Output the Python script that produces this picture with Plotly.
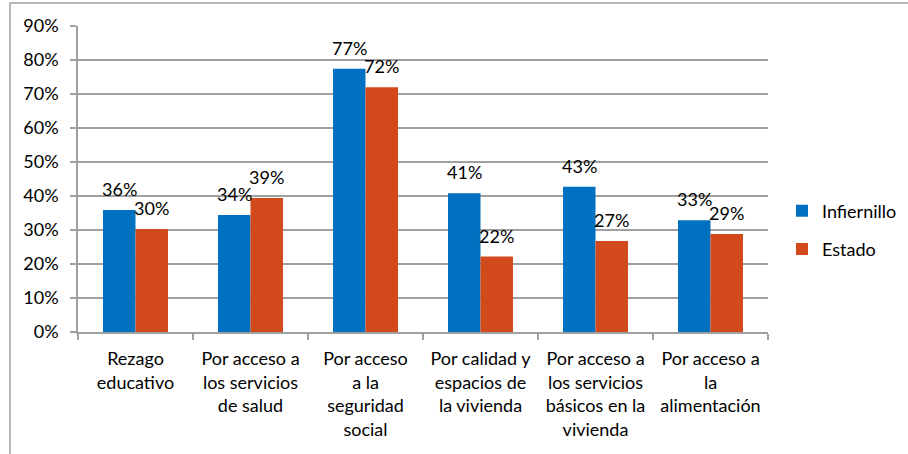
import plotly.graph_objects as go

categories = [
    "Rezago<br>educativo",
    "Por acceso a<br>los servicios<br>de salud",
    "Por acceso<br>a la<br>seguridad<br>social",
    "Por calidad y<br>espacios de<br>la vivienda",
    "Por acceso a<br>los servicios<br>básicos en la<br>vivienda",
    "Por acceso a<br>la<br>alimentación",
]
infiernillo = [0.359, 0.344, 0.774, 0.408, 0.427, 0.329]
estado = [0.303, 0.394, 0.720, 0.222, 0.268, 0.288]
y_ticks = [0, 0.1, 0.2, 0.3, 0.4, 0.5, 0.6, 0.7, 0.8, 0.9]

FONT = "Lato"
FS = 18
BLUE = "#0070C0"
ORANGE = "#D24A1B"
GRID = "#A0A0A0"

W, H = 908, 454
ML, MR, MT, MB = 78, 140, 26, 122
PW = W - ML - MR
PH = H - MT - MB
BARGAP = 0.435
bar_px = PW / len(categories) * (1 - BARGAP) / 2

fig = go.Figure()
fig.add_trace(go.Bar(x=categories, y=infiernillo, name="Infiernillo",
                     marker=dict(color=BLUE, line=dict(width=0)), legendgroup="a"))
fig.add_trace(go.Bar(x=categories, y=estado, name="Estado",
                     marker=dict(color=ORANGE, line=dict(width=0)), legendgroup="b"))

for series, sign in ((infiernillo, -1), (estado, 1)):
    for c, v in zip(categories, series):
        fig.add_annotation(x=c, y=v, text=f"{round(v*100):.0f}%", showarrow=False,
                           xshift=sign * bar_px / 2, yshift=21, yanchor="middle",
                           font=dict(family=FONT, size=FS, color="#000000"))

# outer chart border
fig.add_shape(type="rect", xref="paper", yref="paper",
              x0=(10 - ML) / PW, x1=(W + 5 - ML) / PW,
              y0=-(H + 5 - MT - PH) / PH, y1=(PH + MT - 3) / PH,
              line=dict(color=GRID, width=1.5), layer="below")

fig.update_layout(
    width=W, height=H,
    margin=dict(l=ML, r=MR, t=MT, b=MB, autoexpand=False),
    paper_bgcolor="white", plot_bgcolor="white",
    barmode="group", bargap=BARGAP, bargroupgap=0,
    font=dict(family=FONT, size=FS, color="#000000"),
    showlegend=True,
    legend=dict(xref="container", yref="container",
                x=782 / W, xanchor="left", y=1 - 230 / H, yanchor="middle",
                font=dict(family=FONT, size=FS), tracegroupgap=12,
                itemwidth=30, bgcolor="rgba(0,0,0,0)"),
)
fig.update_xaxes(showgrid=False, showline=True, linecolor=GRID, linewidth=1.5,
                 ticks="outside", tickson="boundaries", ticklen=6, tickcolor=GRID,
                 tickwidth=1.5, tickfont=dict(family=FONT, size=FS), tickangle=0,
                 ticklabelstandoff=10)
fig.update_yaxes(range=[0, 0.9], tickvals=y_ticks, tickformat=".0%",
                 showgrid=True, gridcolor=GRID, gridwidth=1.5,
                 showline=True, linecolor=GRID, linewidth=1.5,
                 ticks="outside", ticklen=6, tickcolor=GRID, tickwidth=1.5,
                 ticklabelstandoff=8, zeroline=False,
                 tickfont=dict(family=FONT, size=FS))

fig.write_html("out.html", config={"displayModeBar": False, "responsive": False},
               default_width=W, default_height=H,
               post_script="document.body.style.margin='0';document.body.style.overflow='hidden';")
